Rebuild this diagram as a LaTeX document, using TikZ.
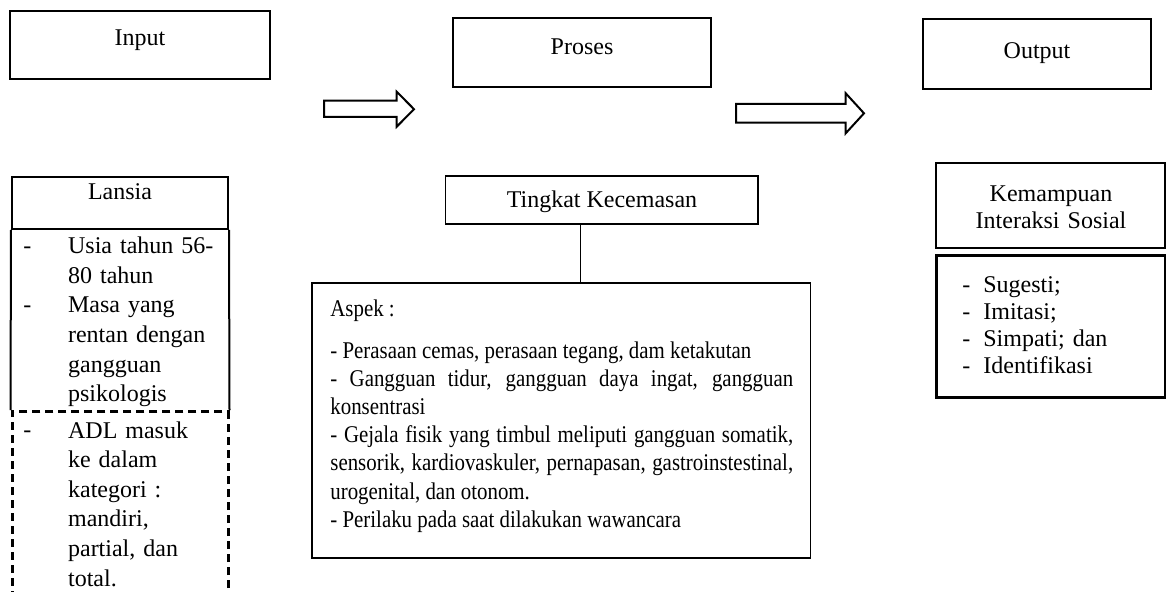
\documentclass[tikz,border=0pt]{standalone}
\usepackage{fontspec}
\setmainfont{Liberation Serif}
\newfontfamily\aspekfont[FakeStretch=0.87]{Liberation Serif}
\usetikzlibrary{positioning}

\begin{document}
\begin{tikzpicture}[
    x=0.5pt, y=-0.5pt,
    font=\fontsize{12}{14}\selectfont,
    frame/.style={draw, line width=1pt, inner sep=0pt},
    thinframe/.style={draw, line width=0.6pt, inner sep=0pt},
    boldframe/.style={draw, line width=1.5pt, inner sep=0pt},
    dashframe/.style={draw, line width=1.5pt, dash pattern=on 4pt off 2.5pt, inner sep=0pt},
    lbl/.style={anchor=base, inner sep=0pt},
    para/.style={anchor=north west, inner sep=0pt, align=left},
    narrow/.style={font=\aspekfont\fontsize{12}{14.1}\selectfont},
    blockarrow/.style={draw, line width=1pt, fill=white, line join=miter}
]
    \useasboundingbox (0,0) rectangle (1166,592);

    % top row
    \node[frame, minimum width=130pt, minimum height=34pt] (input) at (140,45) {};
    \node[lbl] (input-txt) at (140,46) {Input};
    \node[frame, minimum width=129pt, minimum height=34.5pt] (proses) at (582,52.5) {};
    \node[lbl] (proses-txt) at (582,55) {Proses};
    \node[frame, minimum width=114pt, minimum height=35pt] (output) at (1036.7,54) {};
    \node[lbl] (output-txt) at (1037,59) {Output};

    \draw[blockarrow] (324,100.7) -- (396.7,100.7) -- (396.7,91.7) -- (414,109.2)
        -- (396.7,126.7) -- (396.7,117) -- (324,117) -- cycle;
    \draw[blockarrow] (736,104) -- (845.7,104) -- (845.7,93.3) -- (864,113.3)
        -- (845.7,133.3) -- (845.7,122.7) -- (736,122.7) -- cycle;

    % input column
    \node[frame, minimum width=108pt, minimum height=26.15pt] (lansia) at (120,202.85) {};
    \node[lbl] (lansia-txt) at (120,200) {Lansia};
    \node[dashframe, minimum width=108pt, minimum height=90.65pt] (adl) at (120,502.35) {};
    \draw[frame] (lansia.south west) -- (adl.north west);
    \draw[frame] (lansia.south east) -- (adl.north east);
    \node[lbl, anchor=base west] (dash1) at (23,253.3) {-};
    \node[lbl, anchor=base west] (dash2) at (23,312.5) {-};
    \node[lbl, anchor=base west] (dash3) at (23,437.6) {-};
    \node[para, text width=80pt, font=\fontsize{12}{14.8}\selectfont] (usia) at (67.7,232.6)
        {\strut Usia tahun 56-\\80 tahun\\Masa yang\\rentan dengan\\gangguan\\psikologis};
    \node[para, text width=80pt, font=\fontsize{12}{14.8}\selectfont] (kategori) at (67.7,416.9)
        {\strut ADL masuk\\ke dalam\\kategori :\\mandiri,\\partial, dan\\total.};

    % proses column
    \node[thinframe, minimum width=156.15pt, minimum height=24pt] (tingkat) at (601.85,200) {};
    \node[lbl] (tingkat-txt) at (602,207.6) {Tingkat Kecemasan};
    \node[thinframe, minimum width=249.35pt, minimum height=137.5pt] (aspek) at (561.35,420.5) {};
    \coordinate (stem) at (580.7,224);
    \draw[line width=0.6pt] (stem) -- (stem |- aspek.north);
    \node[lbl, narrow, anchor=base west] (aspek-txt) at (330,316.6) {Aspek :};
    \node[para, narrow, text width=231.4pt, align=justify] (aspek-list) at (330,337.9)
        {\tolerance=9999\hyphenpenalty=10000\strut
         - Perasaan cemas, perasaan tegang, dam ketakutan\\
         - Gangguan tidur, gangguan daya ingat, gangguan\linebreak konsentrasi\\
         - Gejala fisik yang timbul meliputi gangguan somatik,\linebreak
         sensorik, kardiovaskuler, pernapasan, gastroinstestinal,\linebreak
         urogenital, dan otonom.\\
         - Perilaku pada saat dilakukan wawancara};

    % output column
    \node[thinframe, minimum width=114.5pt, minimum height=42.5pt] (kemampuan) at (1050.5,205.5) {};
    \node[para, anchor=north, text width=110pt, align=center,
          font=\fontsize{12}{13.3}\selectfont] (kemampuan-txt) at (1051,182.4)
        {\strut Kemampuan\\Interaksi Sosial};
    \node[boldframe, minimum width=114.5pt, minimum height=71pt] (sosial) at (1050.5,327) {};
    \node[para, text width=100pt, font=\fontsize{12}{13.35}\selectfont] (sosial-txt) at (962,273.9)
        {\strut\makebox[10.5pt][l]{-}Sugesti;\\
         \makebox[10.5pt][l]{-}Imitasi;\\
         \makebox[10.5pt][l]{-}Simpati; dan\\
         \makebox[10.5pt][l]{-}Identifikasi};
\end{tikzpicture}
\end{document}
